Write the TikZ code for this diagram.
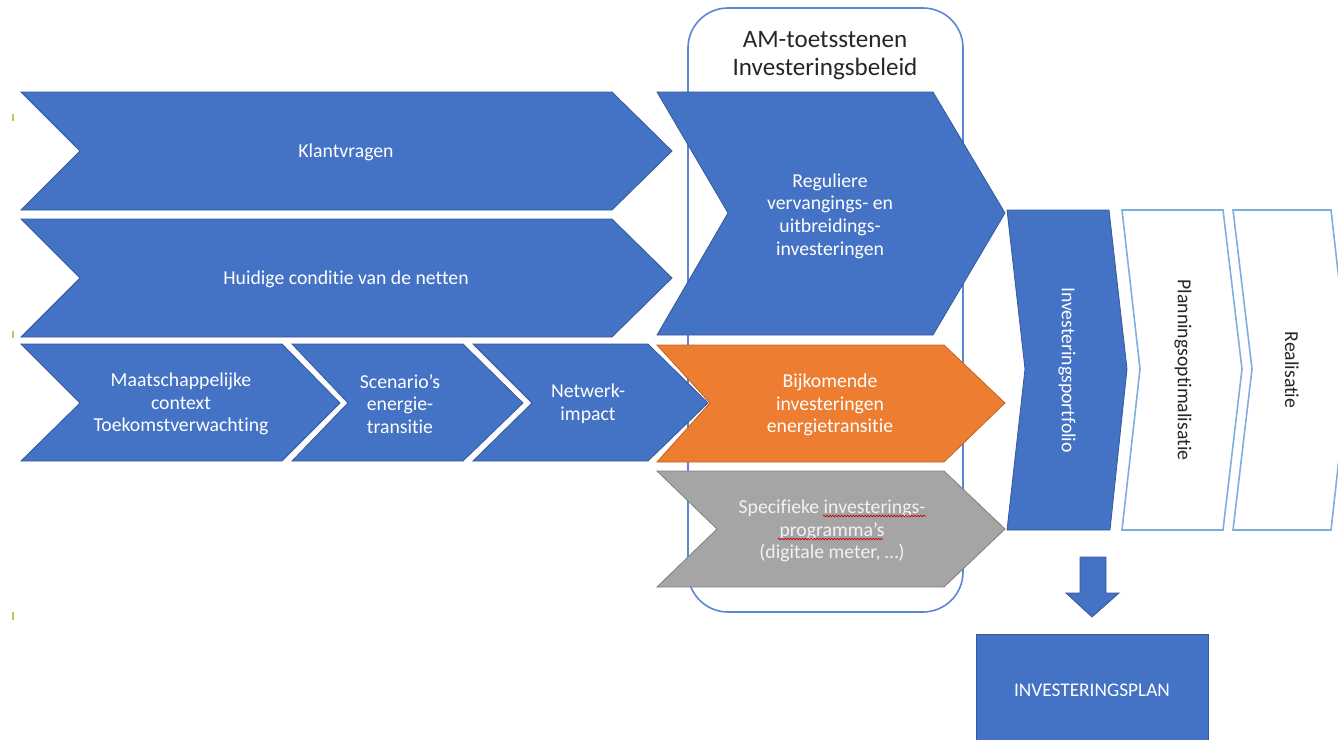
\documentclass[tikz,border=0pt]{standalone}
\usepackage{fontspec}
\setmainfont{Carlito}[Ligatures=NoCommon]
\usetikzlibrary{decorations.pathmorphing}
\definecolor{cblue}{HTML}{4472C4}
\definecolor{cbluedk}{HTML}{35599A}
\definecolor{corange}{HTML}{ED7D31}
\definecolor{corangedk}{HTML}{C0651F}
\definecolor{cgray}{HTML}{A5A5A5}
\definecolor{cgraydk}{HTML}{808080}
\definecolor{cframe}{HTML}{5B86D6}
\definecolor{clight}{HTML}{7FAEE0}
\definecolor{ctitle}{HTML}{262626}
\definecolor{ctick}{HTML}{B5CC5A}
\begin{document}
\begin{tikzpicture}[x=0.75pt,y=-0.75pt,
  bluechev/.style={fill=cblue,draw=cbluedk,line width=0.6pt,line join=miter},
  orangechev/.style={fill=corange,draw=corangedk,line width=0.6pt},
  graychev/.style={fill=cgray,draw=cgraydk,line width=0.6pt},
  openchev/.style={fill=white,draw=clight,line width=1.2pt},
  lbl/.style={text=white,font=\fontsize{14.8}{17}\selectfont,align=center,inner sep=0pt},
  darklbl/.style={text=ctitle,font=\fontsize{14.8}{17}\selectfont,align=center,inner sep=0pt},
  spell/.style={draw=red!80!black,line width=0.5pt,decorate,decoration={snake,amplitude=0.6pt,segment length=2.2pt}}]
\useasboundingbox (0,0) rectangle (1338,739);
\clip (0,0) rectangle (1338,739);

% frame behind
\draw[cframe,line width=1.2pt,rounded corners=30pt] (688,8) rectangle (963,612);

% row 1 and 2
\path[bluechev] (21,92) -- (612,92) -- (672,151) -- (612,210) -- (21,210) -- (80,151) -- cycle;
\path[bluechev] (21,219) -- (612,219) -- (672,278) -- (612,337) -- (21,337) -- (80,278) -- cycle;
% row 3
\path[bluechev] (21,344) -- (282,344) -- (340,403) -- (282,461) -- (21,461) -- (80,403) -- cycle;
\path[bluechev] (292,344) -- (463,344) -- (523,403) -- (463,461) -- (292,461) -- (348,403) -- cycle;
\path[bluechev] (473,344) -- (648,344) -- (708,403) -- (648,461) -- (473,461) -- (532,403) -- cycle;

% middle column
\path[bluechev] (657,92) -- (933,92) -- (1005,213) -- (933,335) -- (657,335) -- (728,213) -- cycle;
\path[orangechev] (657,345) -- (944,345) -- (1005,403) -- (944,462) -- (657,462) -- (710,403) -- cycle;
\path[graychev] (657,471) -- (944,471) -- (1005,529) -- (944,587) -- (657,587) -- (717,529) -- cycle;

% right column
\path[bluechev] (1007,210) -- (1109,210) -- (1127,369) -- (1110,530) -- (1007,530) -- (1025,369) -- cycle;
\path[openchev] (1122,210) -- (1223,210) -- (1242,369) -- (1223,530) -- (1122,530) -- (1140,369) -- cycle;
\path[openchev] (1233,210) -- (1331,210) -- (1349,369) -- (1331,530) -- (1233,530) -- (1252,369) -- cycle;

% down arrow
\path[bluechev] (1080,557) -- (1106,557) -- (1106,593) -- (1119,593) -- (1092,617) -- (1066,593) -- (1080,593) -- cycle;
% plan box
\path[bluechev] (976,634) rectangle (1208,760);

% texts
\node[text=ctitle,font=\fontsize{18.8}{21}\selectfont,align=center,inner sep=0pt] (title) at (825,56) {AM-toetsstenen\\Investeringsbeleid};
\node[lbl] (klant) at (346,152) {Klantvragen};
\node[lbl] (huidig) at (346,279) {Huidige conditie van de netten};
\node[lbl] (maat) at (181,404) {Maatschappelijke\\context\\Toekomstverwachting};
\node[lbl] (scen) at (400,404) {Scenario’s\\energie-\\transitie};
\node[lbl] (netw) at (588,404) {Netwerk-\\impact};
\node[lbl] (regul) at (830,216) {Reguliere\\vervangings- en\\uitbreidings-\\investeringen};
\node[lbl] (bijk) at (830,405) {Bijkomende\\investeringen\\energietransitie};
\node[lbl,text=white!95!black] (spec) at (832,531) {Specifieke investerings-\\programma’s\\(digitale meter, …)};
\node[lbl,rotate=-90] (portf) at (1067,370) {Investeringsportfolio};
\node[darklbl,rotate=-90] (plann) at (1183,370) {Planningsoptimalisatie};
\node[darklbl,rotate=-90] (real) at (1292,370) {Realisatie};
\node[lbl,font=\fontsize{14.5}{17}\selectfont] (plan) at (1092,690) {INVESTERINGSPLAN};

% spell-check underlines
\draw[spell] (823,516) -- (926,516);
\draw[spell] (778,539) -- (883,539);

% small marks at left edge
\draw[ctick,line width=0.8pt] (13,114) -- (13,121);
\draw[ctick,line width=0.8pt] (13,331) -- (13,338);
\draw[ctick,line width=0.8pt] (13,612) -- (13,620);
\end{tikzpicture}
\end{document}
